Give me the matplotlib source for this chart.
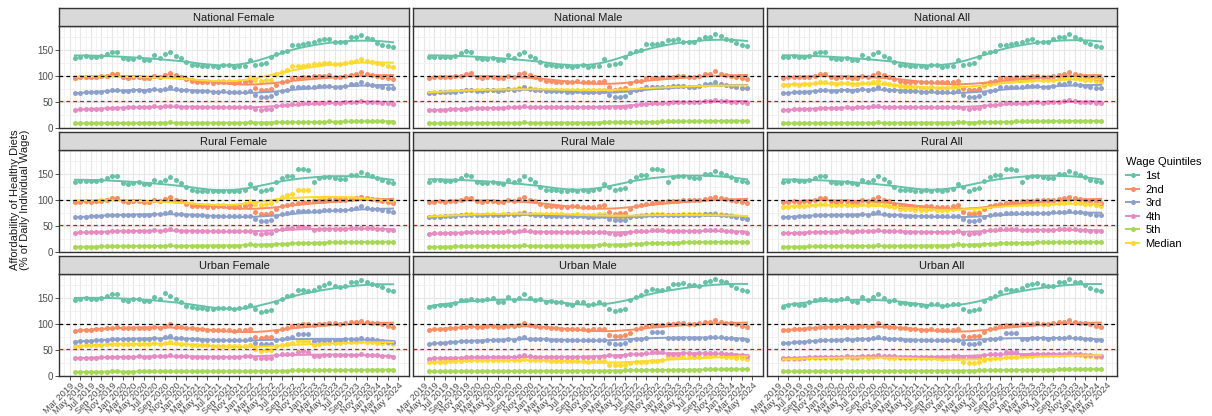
import numpy as np
import pandas as pd
import matplotlib
matplotlib.use("Agg")
import matplotlib.pyplot as plt
from matplotlib.lines import Line2D

plt.rcParams['font.family'] = ['Liberation Sans', 'DejaVu Sans']

# monthly observations, Apr 2019 .. Apr 2024
n_months = 61
tick_labels = pd.date_range('2019-03-01', '2024-05-01', freq='2MS').strftime('%b %Y').tolist()

quintiles = ['1st', '2nd', '3rd', '4th', '5th', 'Median']
colors = ['#66C2A5', '#FC8D62', '#8DA0CB', '#E78AC3', '#A6D854', '#FFD92F']

# ---- National ----
nat_f_q1 = [136,138,139,138,138,139,142,147,147,135, 133,134,137,132,132,141,135,143,147,140, 136,127,121,121,120,120,119,118,121,121, 118,120,120,132,121,124,125,137,143,147, 149,160,160,163,165,166,169,171,172,167, 166,167,175,175,180,173,171,165,160,158, 157]
nat_f_q2 = [97,98,99,98,99,100,101,104,105,98, 96,98,99,97,97,101,99,103,107,102, 99,94,90,89,88,88,87,88,89,88, 87,88,88,90,78,73,74,75,84,88, 90,97,97,98,99,100,100,101,102,99, 99,101,103,104,108,104,103,101,98,96, 95]
nat_f_q3 = [67,68,69,69,70,70,71,73,73,72, 72,73,73,72,73,75,74,76,79,76, 74,73,72,72,71,71,70,70,71,70, 69,70,70,71,64,60,60,61,68,72, 74,79,79,79,80,80,81,81,82,80, 80,82,85,85,88,85,84,82,80,78, 77]
nat_f_q4 = [35,36,36,36,37,37,38,38,39,39, 40,40,41,40,41,42,41,42,43,42, 41,41,41,41,40,40,40,41,41,40, 40,41,41,41,37,35,36,37,42,44, 45,47,47,48,48,48,49,49,50,49, 49,50,51,51,53,51,51,50,49,48, 47]
nat_f_q5 = [9,9,9,9,9,9,9,10,10,10, 10,10,10,10,10,10,10,10,11,10, 10,10,10,10,10,10,10,10,10,10, 10,10,10,11,10,10,10,10,11,11, 11,12,12,12,12,12,12,12,13,12, 12,13,13,13,14,13,13,13,13,12, 12]
nat_f_med = [97,98,99,98,99,100,101,104,105,98, 96,98,99,97,97,100,99,102,105,101, 98,95,92,91,90,90,89,90,91,90, 89,90,91,98,93,90,92,93, 105,108,112,119,120,120,122,123,124,125,126,124,124,126,128,130,134,130,128,126,124,120,118]

nat_m_q1 = [137,138,138,137,137,139,145,148,147,135, 133,134,136,132,132,141,135,143,147,140, 136,127,122,121,120,120,119,118,120,121, 118,119,120,133,121,124,125,138,145,148, 150,162,162,162,164,169,169,172,167,167, 167,172,175,175,181,177,172,169,164,160, 158]
nat_m_q2 = [97,98,99,98,98,100,101,105,106,98, 96,98,99,97,96,101,99,104,107,102, 99,94,91,90,89,89,88,89,90,89, 88,89,89,91,80,74,75,77,86,90, 91,96,96,97,98,99,99,100,101,99, 99,101,104,104,110,104,103,101,98,96, 94]
nat_m_q3 = [67,68,69,69,70,70,71,73,73,72, 72,73,73,72,73,75,74,76,79,76, 74,73,72,72,71,71,70,70,71,70, 69,70,70,71,63,60,60,62,69,73, 75,79,79,79,80,80,81,81,82,80, 80,82,85,85,88,85,84,82,80,78, 77]
nat_m_q4 = [34,35,35,35,36,36,37,37,38,38, 38,39,39,39,39,40,40,41,42,41, 40,40,40,40,40,40,40,40,40,40, 40,40,40,41,41,40,40,41,43,45, 46,47,48,48,49,49,50,50,51,50, 50,51,52,52,55,53,52,51,51,50, 49]
nat_m_q5 = [9,9,9,9,9,9,9,10,10,10, 10,10,10,10,10,10,10,10,11,10, 10,10,10,10,10,10,10,10,10,10, 10,10,10,11,11,11,11,11,11,12, 12,12,12,12,13,13,13,13,13,13, 13,13,14,14,14,14,14,14,14,14, 13]
nat_m_med = [68,69,70,70,71,71,72,74,74,73, 73,74,74,73,74,76,75,77,79,77, 75,74,74,74,73,73,73,73,74,73, 73,74,74,74,73,72,73,73,70,73, 75,79,79,79,80,80,81,81,82,80, 80,82,84,85,87,85,84,82,80,78, 77]

nat_a_q1 = [137,138,139,138,137,139,144,147,147,135, 133,134,136,132,132,141,135,143,147,140, 136,127,121,121,120,120,119,118,121,121, 118,120,120,132,121,124,125,137,144,147, 149,161,161,162,164,167,169,171,167,166, 167,172,175,176,181,175,171,167,163,159, 157]
nat_a_q2 = [97,98,99,98,98,99,101,104,105,98, 96,98,99,97,97,101,99,103,107,102, 99,94,90,89,89,88,88,88,89,88, 88,89,89,90,78,74,74,76,85,89, 90,96,96,97,98,99,99,100,101,99, 99,101,103,104,109,104,103,101,98,96, 94]
nat_a_q3 = [67,68,69,69,70,70,71,73,73,72, 72,73,73,72,73,75,74,76,79,76, 74,73,72,72,71,71,70,70,71,70, 69,70,70,71,63,60,60,61,68,72, 74,79,79,79,80,80,81,81,82,80, 80,82,85,85,88,85,84,82,80,78, 77]
nat_a_q4 = [35,35,36,36,36,37,37,38,38,38, 39,39,40,39,40,41,40,42,43,41, 40,40,40,40,40,40,40,40,40,40, 40,40,40,41,39,37,38,39,42,44, 45,47,48,48,48,49,49,50,50,49, 50,50,51,52,54,52,51,50,50,49, 48]
nat_a_q5 = [9,9,9,9,9,9,9,10,10,10, 10,10,10,10,10,10,10,10,11,10, 10,10,10,10,10,10,10,10,10,10, 10,10,10,11,11,10,10,11,11,12, 12,12,12,12,13,13,13,13,13,13, 13,13,14,14,14,14,14,14,13,13, 13]
nat_a_med = [83,84,85,84,85,85,86,88,88,86, 85,86,86,85,85,87,86,88,90,87, 85,83,81,80,79,79,78,78,79,78, 78,78,79,80,75,73,74,75,82,85, 87,90,91,91,92,92,93,93,94,92, 92,93,95,96,99,96,95,93,92,90, 89]

# ---- Rural ----
rur_f_q1 = [135,138,138,137,137,139,142,146,146,134, 132,133,135,132,131,139,135,139,145,140, 134,125,119,118,118,117,117,118,117,118, 117,118,120,131,124,117,120,122,136,143, 147,147,160,160,158,135,143,145,145,143, 141,141,149,149,155,151,147,143,139,136, 134]
rur_f_q2 = [96,97,98,97,98,99,101,104,105,99, 97,98,99,97,97,100,99,103,106,101, 98,93,89,88,88,87,87,88,88,87, 86,87,88,90,78,73,74,76,84,88, 90,92,95,97,97,98,98,99,100,100, 100,101,103,104,107,104,103,101,99,96, 94]
rur_f_q3 = [67,68,68,69,69,70,71,72,72,71, 71,72,72,71,72,74,73,75,78,74, 73,72,71,71,71,70,70,70,70,70, 69,69,70,70,63,59,59,61,70,74, 76,78,79,79,79,80,80,81,82,81, 81,82,84,85,88,85,84,83,81,79, 78]
rur_f_q4 = [37,38,38,38,38,39,39,40,40,40, 40,41,41,40,41,42,41,43,44,42, 41,41,41,40,40,40,40,40,40,40, 40,40,40,41,37,35,36,36,42,44, 46,47,49,49,48,43,44,44,45,45, 45,45,46,46,47,46,46,45,44,43, 42]
rur_f_q5 = [10,10,10,10,10,11,11,11,11,11, 11,11,12,12,12,12,12,12,13,12, 12,12,12,12,12,12,12,12,12,12, 12,12,13,15,14,14,14,14,15,16, 16,17,18,18,18,18,18,18,19,19, 19,19,19,20,20,20,20,19,19,19, 19]
rur_f_med = [97,98,99,98,99,100,101,104,105,99, 97,98,99,97,97,100,99,102,104,100, 98,95,92,91,90,90,89,90,90,89, 89,90,92,99,92,90,92,94, 100,106,110,112,120,120,119,101,102,103,103,103,104,104,105,105,106,104,103,102,100,98,96]

rur_m_q1 = [136,139,139,138,137,139,143,148,147,135, 133,134,136,133,132,140,136,140,146,141, 135,126,120,119,119,118,118,119,118,119, 118,119,121,132,125,119,122,124,137,144, 148,148,161,161,159,136,144,146,146,144, 142,142,150,151,156,152,148,144,140,137, 135]
rur_m_q2 = [96,97,98,97,98,99,100,104,105,98, 97,98,99,97,97,100,98,102,106,101, 98,93,89,88,88,87,87,88,88,87, 86,87,88,90,78,74,75,76,84,88, 90,92,95,97,97,98,98,99,100,100, 100,101,103,104,107,104,103,101,99,96, 94]
rur_m_q3 = [67,68,68,69,69,70,71,72,72,71, 71,72,72,71,72,73,72,74,76,73, 72,71,70,70,70,69,69,69,69,69, 68,68,69,69,64,61,61,62,67,69, 70,71,72,72,72,71,71,71,72,72, 72,72,73,73,74,72,71,70,68,65, 63]
rur_m_q4 = [35,36,36,36,36,37,37,38,38,38, 38,39,39,38,39,40,39,40,42,40, 39,39,39,38,38,38,38,38,38,38, 38,38,38,39,36,35,35,36,39,40, 41,41,42,42,42,40,40,40,41,41, 41,41,42,42,43,42,41,40,39,38, 37]
rur_m_q5 = [10,10,10,10,10,11,11,11,11,11, 11,11,12,12,12,12,12,12,13,12, 12,12,12,12,12,12,12,12,12,12, 12,12,13,15,14,14,14,14,15,16, 16,17,18,18,18,18,18,18,19,19, 19,19,19,20,20,20,20,19,19,19, 19]
rur_m_med = [68,69,69,70,70,71,72,73,73,72, 72,73,73,72,73,74,73,75,77,74, 73,73,73,73,73,73,72,72,73,72, 72,72,73,73,68,65,66,67,68,70, 71,72,73,73,73,72,72,72,73,73, 73,73,74,74,75,73,72,71,69,66, 64]

rur_a_q1 = [136,138,139,138,137,139,143,147,147,135, 133,134,136,133,132,140,136,140,146,141, 135,126,120,119,119,118,118,119,118,119, 118,119,121,132,125,118,121,123,137,144, 148,148,161,161,159,136,144,146,146,144, 142,142,150,150,156,152,148,144,140,137, 135]
rur_a_q2 = [96,97,98,97,98,99,101,104,105,99, 97,98,99,97,97,100,99,103,106,101, 98,93,89,88,88,87,87,88,88,87, 86,87,88,90,78,73,74,76,84,88, 90,92,95,97,97,98,98,99,100,100, 100,101,103,104,107,104,103,101,99,96, 94]
rur_a_q3 = [67,68,68,69,69,70,71,72,72,71, 71,72,72,71,72,73,72,75,77,73, 72,71,71,70,70,70,69,69,69,69, 69,69,69,70,63,60,60,61,68,71, 73,74,76,76,76,75,75,76,76,76, 76,77,78,78,80,78,77,76,74,72, 71]
rur_a_q4 = [36,37,37,37,37,38,38,39,39,39, 39,40,40,39,40,41,40,41,43,41, 40,40,40,39,39,39,39,39,39,39, 39,39,39,40,37,35,36,36,40,42, 43,44,45,45,45,42,42,42,43,43, 43,43,44,44,45,44,43,42,41,40, 40]
rur_a_q5 = [10,10,10,10,10,11,11,11,11,11, 11,11,12,12,12,12,12,12,13,12, 12,12,12,12,12,12,12,12,12,12, 12,12,13,15,14,14,14,14,15,16, 16,17,18,18,18,18,18,18,19,19, 19,19,19,20,20,20,20,19,19,19, 19]
rur_a_med = [86,87,88,88,89,90,91,93,93,91, 90,91,91,90,91,92,91,93,95,91, 89,86,84,83,83,82,82,82,83,82, 82,82,83,85,79,76,77,78,85,88, 90,91,92,92,92,92,92,93,93,93, 93,94,95,95,97,95,94,93,92,90, 88]

# ---- Urban ----
urb_f_q1 = [146,149,150,149,149,151,154,159,159,147, 145,148,149,145,144,153,149,160,155,148, 142,135,133,132,132,130,130,131,131,132, 130,131,133,138,129,124,126,128,143,149, 154,157,167,167,165,167,172,175,179,173, 172,174,182,181,186,181,178,176,172,167, 164]
urb_f_q2 = [87,88,89,89,90,91,92,93,94,92, 92,93,93,92,93,94,93,96,101,95, 94,93,92,91,90,89,88,88,89,88, 87,88,88,90,76,74,75,76,87,91, 93,96,99,100,100,99,100,101,102,102, 101,103,104,104,107,104,103,102,101,97, 95]
urb_f_q3 = [66,67,68,68,69,69,70,71,72,71, 71,72,72,71,72,73,72,75,77,74, 73,72,71,71,70,70,70,70,70,69, 69,70,70,71,64,61,61,62,70,72, 73,75,82,82,81,68,69,70,70,70, 70,71,71,72,74,72,71,70,68,66, 65]
urb_f_q4 = [34,35,35,35,35,36,36,37,37,37, 37,37,38,37,37,38,38,39,41,39, 38,38,37,37,37,37,37,37,37,37, 37,37,38,38,35,34,35,35,40,42, 42,43,47,48,47,39,39,40,40,40, 40,40,41,41,42,41,40,40,39,38, 37]
urb_f_q5 = [8,8,8,8,8,8,8,9,9,8, 8,8,9,9,9,9,9,9,9,9, 9,9,9,9,9,9,9,9,9,9, 9,9,9,9,9,9,9,9,10,10, 10,11,11,11,11,11,11,11,12,12, 12,12,12,12,12,12,12,12,12,12, 12]
urb_f_med = [57,58,59,59,60,60,61,62,62,61, 61,62,62,61,62,63,62,64,66,63, 62,61,60,60,59,59,58,58,58,57, 57,57,58,59,52,49,50,51,57,59, 61,63,68,68,67,60,62,63,64,64, 64,65,66,66,68,66,65,64,64,63, 62]

urb_m_q1 = [133,136,138,137,137,141,146,147,148,146, 146,148,150,143,143,152,146,150,158,150, 146,148,143,144,143,143,139,138,143,143, 138,140,143,140,130,125,128,130,146,152, 156,165,168,167,167,170,177,178,180,176, 175,174,182,183,188,183,182,176,169,166, 165]
urb_m_q2 = [88,90,91,91,92,93,94,95,96,95, 95,96,96,95,95,97,96,98,103,98, 96,95,94,93,92,91,90,90,91,90, 89,90,90,91,79,77,78,79,84,90, 93,96,98,99,99,100,101,102,102,101, 101,102,104,105,108,105,103,102,100,97, 95]
urb_m_q3 = [62,63,64,64,65,66,67,68,68,68, 68,69,70,69,70,71,70,73,76,72, 71,71,71,70,70,70,70,70,70,70, 69,70,70,70,64,62,62,63,70,71, 72,73,85,85,85,74,73,74,74,74, 73,74,74,75,76,75,74,73,72,71, 70]
urb_m_q4 = [33,34,34,34,35,35,35,36,36,36, 36,37,37,37,37,37,37,38,40,38, 37,37,37,37,37,36,36,36,37,36, 36,37,37,38,40,39,39,40,42,43, 43,44,47,47,47,43,43,43,44,44, 43,44,44,45,45,44,43,42,41,40, 38]
urb_m_q5 = [9,9,9,9,9,9,9,9,9,9, 9,9,9,9,10,10,10,10,10,10, 10,10,10,10,10,10,10,10,10,10, 10,10,10,10,10,10,10,11,11,11, 11,11,12,12,12,12,12,12,12,12, 12,12,13,13,13,13,13,13,13,13, 13]
urb_m_med = [27,28,28,28,29,29,29,30,30,30, 30,30,31,30,30,31,30,31,33,31, 30,30,30,29,29,29,29,29,29,29, 28,29,29,29,22,21,21,22,26,27, 28,28,29,29,30,36,36,36,36,37, 37,37,38,38,40,38,37,36,35,34, 33]

urb_a_q1 = [134,137,139,138,138,142,147,148,149,146, 146,148,150,144,143,152,147,152,158,150, 145,146,141,141,140,140,137,136,140,140, 136,138,140,139,130,125,128,130,145,151, 155,163,168,167,166,169,175,177,180,175, 174,174,182,182,187,182,181,176,170,166, 165]
urb_a_q2 = [88,89,90,90,91,92,93,94,95,94, 94,95,95,94,94,96,95,97,102,97, 95,94,93,92,91,90,89,89,90,89, 88,89,89,90,78,76,77,78,85,90, 93,96,98,99,99,100,100,101,102,101, 101,102,104,105,108,105,103,102,100,97, 95]
urb_a_q3 = [63,64,65,65,66,67,68,69,69,69, 69,70,71,70,71,72,71,74,76,73, 72,71,71,70,70,70,70,70,70,70, 69,70,70,70,64,62,62,63,70,71, 72,74,84,84,83,72,72,73,73,73, 72,73,73,74,75,74,73,72,71,70, 69]
urb_a_q4 = [34,34,35,35,35,36,36,36,37,37, 37,37,38,37,37,38,38,39,40,38, 38,38,37,37,37,37,37,37,37,37, 37,37,38,38,37,36,37,37,41,42, 42,43,47,47,46,41,41,42,42,42, 42,42,43,43,44,43,42,41,40,39, 38]
urb_a_q5 = [9,9,9,9,9,9,9,9,9,9, 9,9,9,9,10,10,10,10,10,10, 10,10,10,10,10,10,10,10,10,10, 10,10,10,10,10,10,10,11,11,11, 11,11,12,12,12,12,12,12,12,12, 12,12,13,13,13,13,13,13,13,13, 13]
urb_a_med = [32,33,33,33,34,34,34,35,35,35, 35,35,36,35,35,36,35,36,38,36, 35,35,35,34,34,34,34,34,34,34, 33,34,34,34,28,26,26,27,31,33, 34,35,37,37,37,39,39,39,40,40, 40,40,41,41,43,41,40,39,38,37, 36]

panels = [
    ('National Female', [nat_f_q1, nat_f_q2, nat_f_q3, nat_f_q4, nat_f_q5, nat_f_med]),
    ('National Male', [nat_m_q1, nat_m_q2, nat_m_q3, nat_m_q4, nat_m_q5, nat_m_med]),
    ('National All', [nat_a_q1, nat_a_q2, nat_a_q3, nat_a_q4, nat_a_q5, nat_a_med]),
    ('Rural Female', [rur_f_q1, rur_f_q2, rur_f_q3, rur_f_q4, rur_f_q5, rur_f_med]),
    ('Rural Male', [rur_m_q1, rur_m_q2, rur_m_q3, rur_m_q4, rur_m_q5, rur_m_med]),
    ('Rural All', [rur_a_q1, rur_a_q2, rur_a_q3, rur_a_q4, rur_a_q5, rur_a_med]),
    ('Urban Female', [urb_f_q1, urb_f_q2, urb_f_q3, urb_f_q4, urb_f_q5, urb_f_med]),
    ('Urban Male', [urb_m_q1, urb_m_q2, urb_m_q3, urb_m_q4, urb_m_q5, urb_m_med]),
    ('Urban All', [urb_a_q1, urb_a_q2, urb_a_q3, urb_a_q4, urb_a_q5, urb_a_med]),
]


def loess(x, y, xs, span=0.75):
    # local quadratic fit with tricube weights
    n = len(x)
    k = int(np.floor(span * n))
    fit = np.empty(len(xs))
    for j, x0 in enumerate(xs):
        d = np.abs(x - x0)
        h = np.sort(d)[k - 1]
        w = np.clip(1 - (d / h) ** 3, 0, None) ** 3
        X = np.column_stack([np.ones(n), x - x0, (x - x0) ** 2])
        sw = np.sqrt(w)
        beta = np.linalg.lstsq(X * sw[:, None], y * sw, rcond=None)[0]
        fit[j] = beta[0]
    return fit


x = np.arange(n_months, dtype=float)
xs = np.linspace(0, n_months - 1, 300)
tick_pos = np.arange(-1, n_months + 1, 2)

W, H = 1212, 416
fig = plt.figure(figsize=(W / 100, H / 100), dpi=100)

col_left = [59, 413, 767]
strip_top = [8, 132, 256]
pw, sh, ph = 350, 18, 102

for p, (title, series) in enumerate(panels):
    r, c = divmod(p, 3)
    top = strip_top[r] + sh
    ax = fig.add_axes([col_left[c] / W, 1 - (top + ph) / H, pw / W, ph / H])
    sax = fig.add_axes([col_left[c] / W, 1 - top / H, pw / W, sh / H])

    # strip
    sax.set_facecolor('#D9D9D9')
    sax.set_xticks([])
    sax.set_yticks([])
    for s in sax.spines.values():
        s.set_color('#333333')
        s.set_linewidth(1.0)
    sax.text(0.5, 0.45, title, ha='center', va='center', fontsize=8, color='#1A1A1A',
             transform=sax.transAxes)

    # points: median underneath
    order = [5, 0, 1, 2, 3, 4]
    for k in order:
        ax.scatter(x, series[k], s=13, color=colors[k], linewidths=0, zorder=3)
    for k in range(6):
        y = np.array(series[k], dtype=float)
        ax.plot(xs, loess(x, y, xs), color=colors[k], lw=1.4, zorder=4)

    ax.axhline(100, color='black', ls=(0, (3, 2.5)), lw=0.9, zorder=5)
    ax.axhline(52, color='#FF0000', ls=(0, (3, 2.5)), lw=0.9, zorder=5)

    ax.set_xlim(-3, n_months + 2)
    ax.set_ylim(0, 197)
    ax.set_xticks(tick_pos)
    ax.set_xticks(np.arange(-2, n_months + 2), minor=True)
    ax.set_yticks([0, 50, 100, 150])
    ax.set_yticks([25, 75, 125, 175], minor=True)
    ax.grid(which='major', color='#E6E6E6', lw=0.8)
    ax.grid(which='minor', color='#EFEFEF', lw=0.55)
    ax.set_axisbelow(True)
    for s in ax.spines.values():
        s.set_color('#333333')
        s.set_linewidth(1.0)
    ax.tick_params(which='minor', length=0)
    ax.tick_params(which='major', length=2.7, width=0.6, color='#333333',
                   labelsize=7, labelcolor='#4D4D4D', pad=1.5)

    if r == 2:
        ax.set_xticklabels(tick_labels, rotation=45, ha='right', va='top',
                           rotation_mode='anchor', fontsize=6.7)
        ax.tick_params(axis='x', pad=1.0)
    else:
        ax.tick_params(axis='x', which='major', length=0, labelbottom=False)
    if c != 0:
        ax.tick_params(axis='y', which='major', length=0, labelleft=False)

fig.text(20 / W, 1 - 200 / H, 'Affordability of Healthy Diets\n(% of Daily Individual Wage)',
         rotation=90, ha='center', va='center', fontsize=8, color='#1A1A1A', linespacing=1.0)

handles = [Line2D([0], [0], color=colors[k], lw=1.4, marker='o', markersize=3.6,
                  markeredgewidth=0) for k in range(6)]
leg = fig.legend(handles, quintiles, loc='upper left', bbox_to_anchor=(1122 / W, 1 - 153 / H),
                 frameon=False, title='Wage Quintiles', fontsize=8, title_fontsize=8,
                 handlelength=1.1, handletextpad=0.6, labelspacing=0.32, borderaxespad=0,
                 alignment='left')

fig.savefig('out.png', dpi=100)
